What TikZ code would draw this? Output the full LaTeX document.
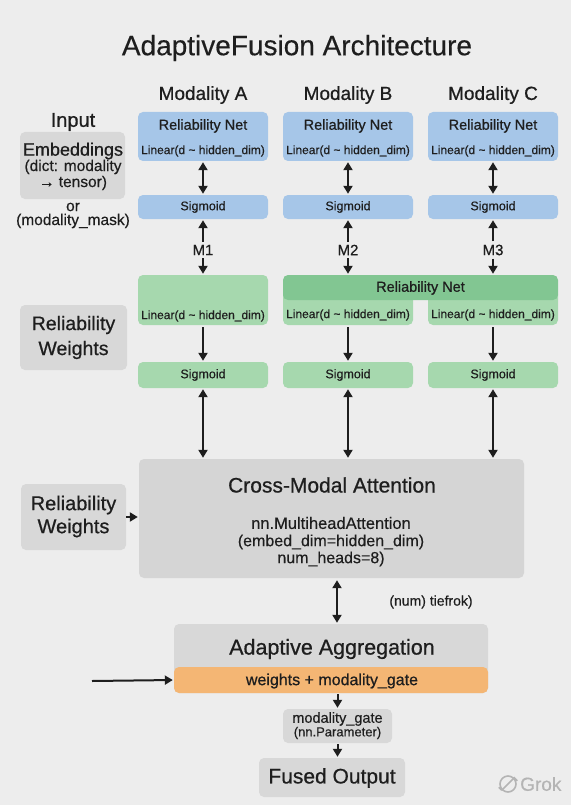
\documentclass[tikz,border=0pt]{standalone}
\usepackage{fontspec}
\setmainfont{Liberation Sans}[FakeBold=0.35]
\newfontfamily\medfont{Liberation Sans}[FakeBold=0.7]
\usetikzlibrary{arrows.meta}
\definecolor{bgc}{HTML}{EDEDED}
\definecolor{ink}{HTML}{1E1E1E}
\definecolor{blueC}{HTML}{A6C6E8}
\definecolor{greenL}{HTML}{A6D8AE}
\definecolor{greenD}{HTML}{82C692}
\definecolor{grayB}{HTML}{D8D8D8}
\definecolor{grayC}{HTML}{D5D5D5}
\definecolor{orangeC}{HTML}{F4B674}
\definecolor{wmark}{HTML}{B4B4B4}
\begin{document}
\begin{tikzpicture}[x=1pt,y=-1pt,
  box/.style={rounded corners=5pt, inner sep=0pt, draw=none},
  bluebox/.style={box, fill=blueC},
  greenbox/.style={box, fill=greenL},
  bandbox/.style={box, fill=greenD},
  graybox/.style={box, fill=grayB},
  txt/.style={inner sep=0pt, text=ink},
  fs/.style={font=\fontsize{#1}{#1}\selectfont},
  mfs/.style={font=\medfont\fontsize{#1}{#1}\selectfont},
  tip/.tip={Triangle[length=8pt,width=9pt]},
  arr/.style={-tip, line width=2pt, draw=ink},
  dbl/.style={tip-tip, line width=2pt, draw=ink}
]
\clip (0,0) rectangle (571,805);
\useasboundingbox (0,0) rectangle (571,805);
\fill[bgc] (0,0) rectangle (571,805);

% title and column heads
\node[txt, fs=28] (title) at (297,48) {AdaptiveFusion Architecture};
\node[txt, mfs=19] (hA) at (203,95) {Modality A};
\node[txt, mfs=19] (hB) at (348,95) {Modality B};
\node[txt, mfs=19] (hC) at (493,95) {Modality C};

% input column
\node[txt, mfs=20] (inp) at (73,122) {Input};
\node[graybox, minimum width=105pt, minimum height=67pt] (emb) at (72.5,165.5) {};
\node[txt, mfs=18] (emb1) at (73,151) {Embeddings};
\node[txt, fs=15.5] (emb2) at (73,167) {(dict: modality};
\node[txt, fs=15.5] (emb3) at (73,183) {→ tensor)};
\node[txt, fs=15.5] (or) at (73,207) {or};
\node[txt, fs=15.5] (mask) at (73,221) {(modality\_mask)};

% blue row
\foreach \c/\x/\m in {A/203/1,B/348/2,C/493/3}{
  \node[bluebox, minimum width=130pt, minimum height=49pt] (r\c) at (\x,136.5) {};
  \node[txt, mfs=14.5] (rt\c) at (\x,126) {Reliability Net};
  \node[txt, fs=12] (rl\c) at (\x,151) {Linear(d \textasciitilde{} hidden\_dim)};
  \node[bluebox, minimum width=130pt, minimum height=24pt] (s\c) at (\x,207) {};
  \node[txt, fs=12.5] (st\c) at (\x,207) {Sigmoid};
  \node[txt, mfs=15] (m\c) at (\x,250) {M\m};
  \draw[dbl, shorten <=1pt, shorten >=1pt] (r\c.south) -- (s\c.north);
}

% green row
\node[greenbox, minimum width=130pt, minimum height=50pt] (gA) at (203,300) {};
\node[txt, fs=12] (glA) at (203,316) {Linear(d \textasciitilde{} hidden\_dim)};
\node[greenbox, minimum width=130pt, minimum height=35pt] (gB) at (348,307.5) {};
\node[greenbox, minimum width=130pt, minimum height=35pt] (gC) at (493,307.5) {};
\node[bandbox, minimum width=275pt, minimum height=25pt] (band) at (420.5,287.5) {};
\node[txt, mfs=14.5] (bandt) at (420.5,288) {Reliability Net};
\node[txt, fs=12] (glB) at (348,315) {Linear(d \textasciitilde{} hidden\_dim)};
\node[txt, fs=12] (glC) at (493,315) {Linear(d \textasciitilde{} hidden\_dim)};

\draw[arr, shorten <=3pt, shorten >=1pt] (mA.north) -- (sA.south);
\draw[arr, shorten <=3pt, shorten >=1pt] (mB.north) -- (sB.south);
\draw[arr, shorten <=3pt, shorten >=1pt] (mC.north) -- (sC.south);
\draw[arr, shorten <=3pt, shorten >=1pt] (mA.south) -- (gA.north);
\draw[arr, shorten <=3pt, shorten >=1pt] (mB.south) -- (mB.south |- band.north);
\draw[arr, shorten <=3pt, shorten >=1pt] (mC.south) -- (mC.south |- band.north);

\foreach \c/\x in {A/203,B/348,C/493}{
  \node[greenbox, minimum width=130pt, minimum height=26pt] (gs\c) at (\x,375) {};
  \node[txt, fs=12.5] (gst\c) at (\x,375) {Sigmoid};
  \draw[arr, shorten <=2pt, shorten >=1pt] (g\c.south) -- (gs\c.north);
}

\node[graybox, minimum width=107pt, minimum height=65pt] (rw1) at (73.5,337.5) {};
\node[txt, mfs=19.5] (rw1a) at (73.5,325) {Reliability};
\node[txt, mfs=19.5] (rw1b) at (73.5,350) {Weights};

% cross-modal attention
\node[box, fill=grayC, minimum width=385pt, minimum height=119pt] (cm) at (331.5,518.5) {};
\node[txt, mfs=21] (cmt) at (332,485) {Cross-Modal Attention};
\node[txt, fs=16.5] (cm1) at (331,523) {nn.MultiheadAttention};
\node[txt, fs=16] (cm2) at (331,542) {(embed\_dim=hidden\_dim)};
\node[txt, fs=16] (cm3) at (331,559) {num\_heads=8)};
\foreach \c in {A,B,C}{
  \draw[dbl, shorten <=1pt, shorten >=1pt] (gs\c.south) -- (gs\c.south |- cm.north);
}

\node[graybox, minimum width=105pt, minimum height=66pt] (rw2) at (73.5,517) {};
\node[txt, mfs=20] (rw2a) at (73.5,505) {Reliability};
\node[txt, mfs=20] (rw2b) at (73.5,528) {Weights};
\draw[arr, shorten >=1pt] (rw2.east) -- (rw2.east -| cm.west);

% aggregation
\coordinate (spine) at (337,0);
\node[graybox, minimum width=314pt, minimum height=69pt] (agg) at (331,658.5) {};
\node[box, fill=orangeC, minimum width=314pt, minimum height=26pt] (aggo) at (331,680) {};
\node[txt, mfs=21.5] (aggt) at (332,649) {Adaptive Aggregation};
\node[txt, mfs=16] (aggw) at (332,681) {weights + modality\_gate};
\draw[dbl, shorten <=2pt, shorten >=1pt] (cm.south -| spine) -- (agg.north -| spine);
\node[txt, fs=14] (note) at (431,602) {(num) tiefrok)};
\coordinate (lin) at (92,681);
\draw[arr, shorten >=1pt] (lin) -- (aggo.west);

\node[graybox, minimum width=109pt, minimum height=34pt] (mg) at (337.5,726) {};
\node[txt, fs=14.5] (mg1) at (337.5,719) {modality\_gate};
\node[txt, fs=13] (mg2) at (337.5,733) {(nn.Parameter)};
\draw[arr, shorten <=1pt, shorten >=1pt] (mg.north |- aggo.south) -- (mg.north);
\node[graybox, minimum width=146pt, minimum height=39pt] (fo) at (332,777.5) {};
\node[txt, mfs=21] (fot) at (332,778) {Fused Output};
\draw[arr, shorten <=1pt, shorten >=1pt] (mg.south) -- (mg.south |- fo.north);

% watermark
\node[circle, draw=wmark, line width=1.6pt, minimum size=16pt, inner sep=0pt] (gk) at (508,784) {};
\draw[wmark, line width=1.6pt] (gk.south west) -- ++(-3pt,3pt);
\draw[wmark, line width=1.6pt] (gk.south west) -- (gk.north east) -- ++(3pt,-3pt);
\node[inner sep=0pt, anchor=west, text=wmark, fs=19] (gkt) at (520,784) {Grok};
\end{tikzpicture}
\end{document}
